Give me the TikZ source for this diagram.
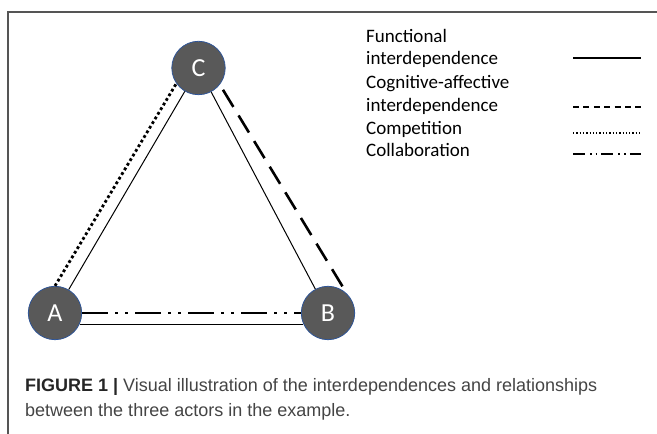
\documentclass[tikz,border=0pt]{standalone}
\usepackage{fontspec}
\setmainfont{Carlito}
\newfontfamily\capfont{Liberation Sans}
\usepackage{tikz}
\usetikzlibrary{calc}
\usetikzlibrary{positioning}
\definecolor{ACT}{HTML}{595959}
\definecolor{RIM}{HTML}{2F5597}
\definecolor{FRM}{HTML}{555555}
\definecolor{CAP}{HTML}{444444}
\tikzset{
  ACT/.style={% Style for the three actors
      circle,
      minimum size=53.4pt,
      inner sep=0pt,
      fill=ACT,
      draw=RIM,
      line width=0.8pt,
      text=white,
      font=\fontsize{26}{26}\selectfont,
  },
  KEY/.style={% Style for legend texts
      anchor=base west,
      inner sep=0pt,
      font=\fontsize{19}{22}\selectfont,
  },
  CAP/.style={% Style for caption lines
      anchor=base west,
      inner sep=0pt,
      text=CAP,
      font=\capfont\fontsize{18}{20}\selectfont,
  },
  FUN/.style={line width=1pt},
  COG/.style={line width=2.6pt, dash pattern=on 20pt off 10pt},
  COM/.style={line width=2.8pt, dash pattern=on 2.8pt off 2.6pt},
  COL/.style={line width=2.6pt, dash pattern=on 26pt off 7pt on 3pt off 7pt on 3pt off 7pt},
  keyFUN/.style={line width=2pt},
  keyCOG/.style={line width=2pt, dash pattern=on 6pt off 4.4pt},
  keyCOM/.style={line width=1.3pt, dash pattern=on 1.3pt off 2pt},
  keyCOL/.style={line width=2pt, dash pattern=on 12pt off 5pt on 1.5pt off 4.2pt on 1.5pt off 4.2pt},
}

\begin{document}
\begin{tikzpicture}[x=1pt, y=1pt]
    \useasboundingbox (0,0) rectangle (657,434);
    \draw[FRM, line width=1.3pt] (8,0) -- (8,422) -- (657,422); % frame

    % actors
    \node[ACT] (C) at (198.5,366) {C};
    \node[ACT] (A) at (55,121) {A};
    \node[ACT] (B) at (328,121) {B};

    % relations
    \draw[FUN] (A) -- (C);
    \draw[FUN] (C) -- (B);
    \draw[FUN] (A.-24) -- (B.-156);
    \draw[COM] (A.90) -- (C.215);
    \draw[COG, shorten <=6pt] (C.-38) -- (B.46);
    \draw[COL] (A) -- (B);

    % legend
    \foreach \nm/\yy/\txt in {fun1/391/Functional, fun2/369/interdependence,
        cog1/345/Cognitive-affective, cog2/322/interdependence,
        com/299/Competition, col/277/Collaboration} {%
        \node[KEY] (\nm) at (366,\yy) {\txt};
    }
    \foreach \st/\yy in {keyFUN/376, keyCOG/327, keyCOM/301, keyCOL/280} {%
        \draw[\st] (573,\yy) coordinate (\st L) -- (641,\yy) coordinate (\st R);
    }

    % caption
    \node[CAP] (cap1) at (25,42) {{\bfseries\color{black!85}FIGURE 1 |} Visual illustration of the interdependences and relationships};
    \node[CAP] (cap2) at (25,17) {between the three actors in the example.};
\end{tikzpicture}
\end{document}
